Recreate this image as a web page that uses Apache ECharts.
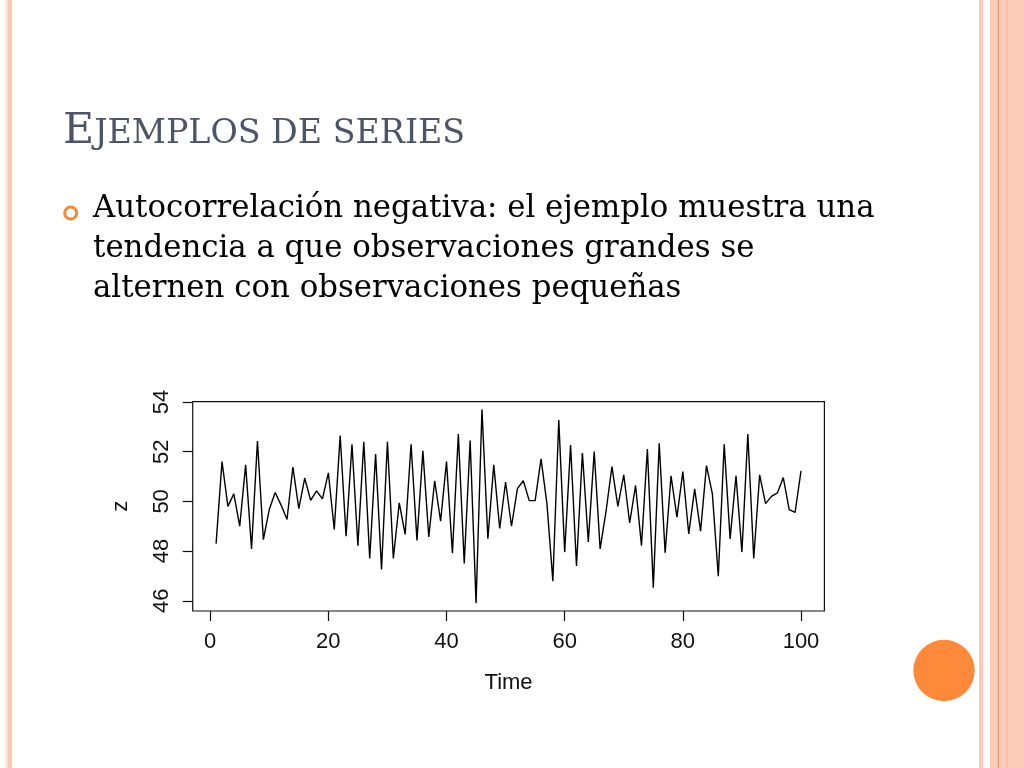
<!DOCTYPE html>
<html>
<head>
<meta charset="utf-8">
<script src="https://cdn.jsdelivr.net/npm/echarts@6/dist/echarts.min.js"></script>
<style>
  html, body { margin: 0; padding: 0; background: #ffffff; }
  #chart { width: 1024px; height: 768px; }
</style>
</head>
<body>
<div id="chart"></div>
<script>
// ---- data (time series z, t = 1..100) ----
const tStart = 1;
const z = [
  48.30, 51.60, 49.80, 50.30, 49.00, 51.47, 48.09, 52.43, 48.46, 49.67,
  50.36, 49.85, 49.27, 51.38, 49.71, 50.94, 50.04, 50.42, 50.10, 51.15,
  48.87, 52.65, 48.60, 52.30, 48.22, 52.40, 47.70, 51.90, 47.26, 52.40,
  47.70, 49.94, 48.67, 52.30, 48.43, 52.03, 48.57, 50.83, 49.20, 51.60,
  47.92, 52.71, 47.50, 52.45, 45.90, 53.70, 48.50, 51.47, 48.91, 50.78,
  49.00, 50.51, 50.83, 50.03, 50.03, 51.71, 49.90, 46.79, 53.27, 47.96,
  52.27, 47.40, 51.94, 48.37, 52.00, 48.09, 49.60, 51.40, 49.80, 51.07,
  49.13, 50.64, 48.22, 52.11, 46.53, 52.34, 47.93, 51.03, 49.37, 51.20,
  48.69, 50.50, 48.80, 51.44, 50.30, 46.99, 52.30, 48.49, 51.03, 47.96,
  52.71, 47.70, 51.07, 49.91, 50.20, 50.34, 50.96, 49.67, 49.56, 51.23
];
const xTicks = [0, 20, 40, 60, 80, 100];
const yTicks = [46, 48, 50, 52, 54];
const titleFirst = 'E';
const titleRest = 'JEMPLOS DE SERIES';
const bodyLines = [
  'Autocorrelación negativa: el ejemplo muestra una',
  'tendencia a que observaciones grandes se',
  'alternen con observaciones pequeñas'
];
const xName = 'Time';
const yName = 'z';

const seriesData = z.map((v, i) => [tStart + i, v]);

const chart = echarts.init(document.getElementById('chart'), null, { renderer: 'canvas' });

const axisFont = 'Liberation Sans, Arial, Helvetica, sans-serif';
const serifFont = 'DejaVu Serif, serif';

const option = {
  backgroundColor: '#ffffff',
  animation: false,
  grid: {
    left: 192.7, right: 199.6, top: 401.7, bottom: 157,
    show: true, borderColor: '#111111', borderWidth: 1.2, backgroundColor: 'transparent'
  },
  xAxis: {
    type: 'value',
    min: -2.96, max: 103.96,
    axisLine: { show: false, onZero: false },
    splitLine: { show: false },
    axisTick: { show: true, inside: false, length: 10, customValues: xTicks, lineStyle: { color: '#111', width: 1.2 } },
    axisLabel: { show: true, customValues: xTicks, margin: 20, color: '#111', fontSize: 22, fontFamily: axisFont },
    name: xName, nameLocation: 'middle', nameGap: 61,
    nameTextStyle: { color: '#111', fontSize: 22, fontFamily: axisFont }
  },
  yAxis: {
    type: 'value',
    min: 45.59, max: 54.01,
    axisLine: { show: false, onZero: false },
    splitLine: { show: false },
    axisTick: { show: true, inside: false, length: 10, customValues: yTicks, lineStyle: { color: '#111', width: 1.2 } },
    axisLabel: { show: true, customValues: yTicks, rotate: 90, margin: 20, color: '#111', fontSize: 22, fontFamily: axisFont },
    name: yName, nameLocation: 'middle', nameGap: 61, nameRotate: 90,
    nameTextStyle: { color: '#111', fontSize: 22, fontFamily: axisFont }
  },
  series: [{
    type: 'line',
    data: seriesData,
    showSymbol: false,
    symbol: 'none',
    lineStyle: { color: '#000000', width: 1.4 },
    silent: true
  }],
  graphic: [
    // left decorative stripes
    { type: 'rect', shape: { x: 5, y: 0, width: 2.5, height: 768 }, style: { fill: '#fde6dc' }, silent: true },
    { type: 'rect', shape: { x: 7.5, y: 0, width: 4.5, height: 768 }, style: { fill: '#fcc8b6' }, silent: true },
    // right decorative stripes
    { type: 'rect', shape: { x: 979, y: 0, width: 4.3, height: 768 }, style: { fill: '#fcc8b8' }, silent: true },
    { type: 'rect', shape: { x: 990, y: 0, width: 34, height: 768 }, style: { fill: '#fdcdb9' }, silent: true },
    { type: 'rect', shape: { x: 997.6, y: 0, width: 1.4, height: 768 }, style: { fill: '#ee9c78' }, silent: true },
    { type: 'rect', shape: { x: 1006, y: 0, width: 1.6, height: 768 }, style: { fill: '#f9bba2' }, silent: true },
    // orange circle
    { type: 'circle', shape: { cx: 944, cy: 670.5, r: 30.7 }, style: { fill: '#fd8a3a' }, silent: true },
    // title (small caps)
    {
      type: 'text', x: 63, y: 153, silent: true,
      style: {
        text: '{a|' + titleFirst + '}{b|' + titleRest + '}',
        verticalAlign: 'bottom',
        fill: '#4e5467',
        rich: {
          a: { fontSize: 42.7, fontFamily: serifFont, fill: '#4e5467', verticalAlign: 'bottom', lineHeight: 50 },
          b: { fontSize: 33.3, fontFamily: serifFont, fill: '#4e5467', verticalAlign: 'bottom', lineHeight: 50, padding: [0, 0, 2, 0] }
        }
      }
    },
    // bullet ring
    { type: 'circle', shape: { cx: 70.7, cy: 213, r: 6 }, style: { fill: 'none', stroke: '#f5883a', lineWidth: 3 }, silent: true },
    // body text
    { type: 'text', x: 93, y: 208.5, silent: true, style: { text: bodyLines[0], fontSize: 30.8, fontFamily: serifFont, fill: '#000', verticalAlign: 'middle' } },
    { type: 'text', x: 93, y: 248.5, silent: true, style: { text: bodyLines[1], fontSize: 30.8, fontFamily: serifFont, fill: '#000', verticalAlign: 'middle' } },
    { type: 'text', x: 93, y: 288.5, silent: true, style: { text: bodyLines[2], fontSize: 30.8, fontFamily: serifFont, fill: '#000', verticalAlign: 'middle' } }
  ]
};

chart.setOption(option);
</script>
</body>
</html>
